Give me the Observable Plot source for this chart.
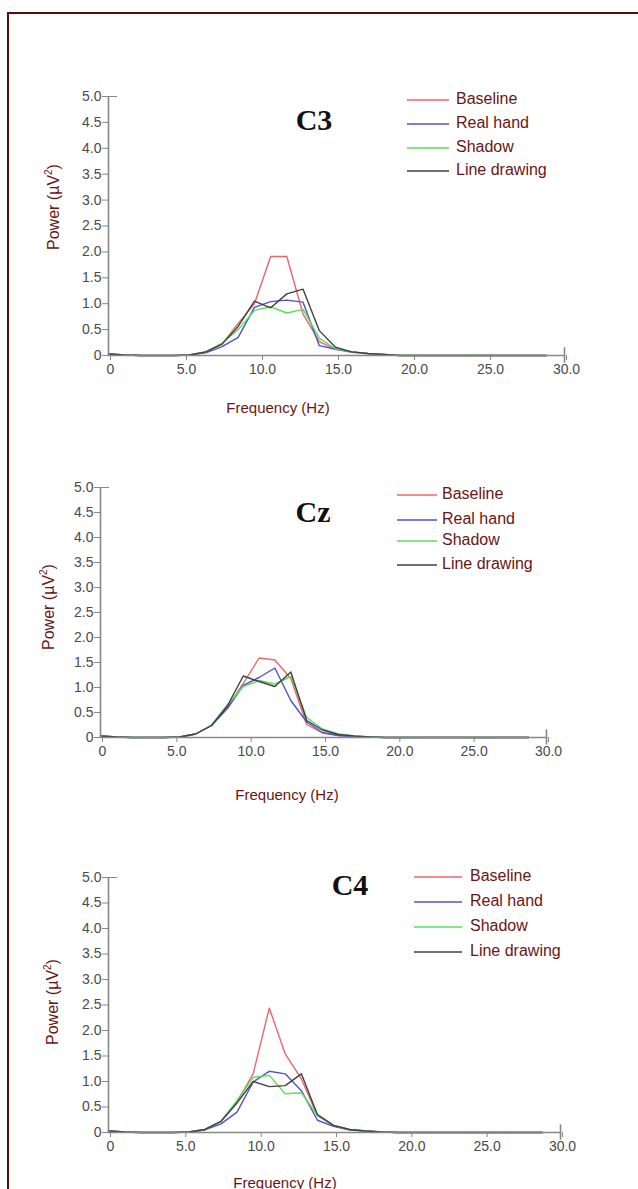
<!DOCTYPE html>
<html>
<head>
<meta charset="utf-8">
<script src="https://cdn.jsdelivr.net/npm/d3@7"></script>
<script src="https://cdn.jsdelivr.net/npm/@observablehq/plot@0.6"></script>
<style>
  html, body { margin: 0; padding: 0; background: #fff; }
  #root { position: relative; width: 638px; height: 1189px; overflow: hidden; background: #fff;
          font-family: "Liberation Sans", Arial, sans-serif; }
  .border { position: absolute; left: 7px; top: 12px; width: 700px; height: 1300px;
            border-left: 2px solid #5a0d0d; border-top: 2px solid #5a0d0d; }
  .title { position: absolute; font-family: "Liberation Serif", "Times New Roman", serif; font-weight: bold;
           font-size: 30px; color: #111; transform: translate(-50%, -50%); white-space: nowrap; }
  .xlab { position: absolute; font-size: 15px; color: #6b1414; transform: translate(-50%, -50%); white-space: nowrap; }
  .ylab { position: absolute; font-size: 16px; color: #6b1414; transform: translate(-50%, -50%) rotate(-90deg); white-space: nowrap; }
  .leg { position: absolute; font-size: 16px; color: #6b1414; white-space: nowrap; line-height: 18px; }
</style>
</head>
<body>
<div id="root"><div class="border"></div></div>
<script>
// ---------- data ----------
// frequency positions of the samples, as read against the axis labels
const freq = [0,1.07,2.13,3.2,4.27,5.33,6.4,7.47,8.53,9.6,10.67,11.73,12.8,13.87,14.93,16.0,17.07,18.13,19.2,20.27,21.33,22.4,23.47,24.53,25.6,26.67,27.73,28.8];
const seriesNames = ["Baseline", "Real hand", "Shadow", "Line drawing"];
const seriesColors = ["#f0646c", "#5050d6", "#58e058", "#404040"];
const xTicks = [0, 5, 10, 15, 20, 25, 30];
const yTicks = [0, 0.5, 1, 1.5, 2, 2.5, 3, 3.5, 4, 4.5, 5];
const panelTitles = ["C3", "Cz", "C4"];

const c3Baseline   = [0.03,0.01,0,0,0,0.01,0.07,0.22,0.62,1.00,1.91,1.91,0.80,0.27,0.12,0.06,0.03,0.01,0,0,0,0,0,0,0,0,0,0];
const c3RealHand   = [0.03,0.01,0,0,0,0.01,0.05,0.17,0.35,0.93,1.04,1.07,1.03,0.19,0.12,0.07,0.04,0.02,0,0,0,0,0,0,0,0,0,0];
const c3Shadow     = [0.03,0.01,0,0,0,0.01,0.07,0.24,0.50,0.87,0.94,0.82,0.89,0.33,0.13,0.07,0.04,0.02,0,0,0,0,0,0,0,0,0,0];
const c3Line       = [0.03,0.01,0,0,0,0.01,0.07,0.22,0.56,1.05,0.92,1.19,1.28,0.48,0.16,0.07,0.04,0.02,0,0,0,0,0,0,0,0,0,0];

const czBaseline   = [0.03,0.01,0,0,0,0.01,0.07,0.24,0.60,1.08,1.59,1.55,1.18,0.26,0.09,0.04,0.02,0.01,0,0,0,0,0,0,0,0,0,0];
const czRealHand   = [0.03,0.01,0,0,0,0.01,0.07,0.24,0.58,1.04,1.20,1.39,0.74,0.31,0.10,0.04,0.02,0.01,0,0,0,0,0,0,0,0,0,0];
const czShadow     = [0.03,0.01,0,0,0,0.01,0.07,0.25,0.65,1.02,1.14,1.07,1.22,0.40,0.17,0.07,0.03,0.01,0,0,0,0,0,0,0,0,0,0];
const czLine       = [0.03,0.01,0,0,0,0.01,0.07,0.24,0.63,1.23,1.12,1.02,1.31,0.34,0.15,0.06,0.03,0.01,0,0,0,0,0,0,0,0,0,0];

const c4Baseline   = [0.03,0.01,0,0,0,0.01,0.06,0.22,0.60,1.15,2.44,1.54,1.05,0.33,0.14,0.06,0.03,0.01,0,0,0,0,0,0,0,0,0,0];
const c4RealHand   = [0.03,0.01,0,0,0,0.01,0.05,0.17,0.40,0.99,1.20,1.15,0.82,0.24,0.12,0.05,0.03,0.01,0,0,0,0,0,0,0,0,0,0];
const c4Shadow     = [0.03,0.01,0,0,0,0.01,0.06,0.22,0.63,1.08,1.12,0.76,0.78,0.33,0.14,0.06,0.03,0.01,0,0,0,0,0,0,0,0,0,0];
const c4Line       = [0.03,0.01,0,0,0,0.01,0.06,0.22,0.58,1.00,0.90,0.92,1.15,0.35,0.14,0.06,0.03,0.01,0,0,0,0,0,0,0,0,0,0];

// ---------- layout (pixel geometry of each panel) ----------
const panels = [
  { title: panelTitles[0], series: [c3Baseline, c3RealHand, c3Shadow, c3Line],
    x0: 108, x30: 564, y5: 96, y0: 355, titlePos: [314, 120],
    leg: { x1: 407, x2: 449, tx: 456, ys: [100, 124, 148, 171] },
    ylab: [53, 207], xlab: [278, 407] },
  { title: panelTitles[1], series: [czBaseline, czRealHand, czShadow, czLine],
    x0: 100, x30: 546, y5: 487, y0: 737, titlePos: [313, 512],
    leg: { x1: 397, x2: 437, tx: 442, ys: [495, 520, 541, 565] },
    ylab: [48, 607], xlab: [287, 794] },
  { title: panelTitles[2], series: [c4Baseline, c4RealHand, c4Shadow, c4Line],
    x0: 108, x30: 560, y5: 877, y0: 1132, titlePos: [350, 885],
    leg: { x1: 414, x2: 462, tx: 470, ys: [877, 902, 927, 952] },
    ylab: [52, 1002], xlab: [285, 1182] }
];

const root = document.getElementById("root");
const fmt = d => d === 0 ? "0" : d.toFixed(1);

function addDiv(cls, text, x, y) {
  const el = document.createElement("div");
  el.className = cls;
  el.innerHTML = text;
  el.style.left = x + "px";
  el.style.top = y + "px";
  root.appendChild(el);
  return el;
}

panels.forEach(p => {
  const rows = [];
  p.series.forEach((vals, si) => {
    vals.forEach((v, i) => rows.push({ freq: freq[i], power: v, series: seriesNames[si] }));
  });
  const mt = 20, mb = 32;
  const top = p.y5 - mt;
  const height = mt + (p.y0 - p.y5) + mb;
  const chart = Plot.plot({
    width: 638,
    height,
    marginLeft: p.x0,
    marginRight: 638 - p.x30,
    marginTop: mt,
    marginBottom: mb,
    style: { fontFamily: "'Liberation Sans', Arial, sans-serif", fontSize: "14px", color: "#777", background: "transparent" },
    x: { domain: [0, 30] },
    y: { domain: [0, 5] },
    color: { domain: seriesNames, range: seriesColors },
    marks: [
      Plot.axisX({ ticks: xTicks, tickFormat: fmt, tickSize: 5, tickPadding: 4, label: null, fill: "#4a4a4a", stroke: "#888", fontSize: 14, dx: 2 }),
      Plot.axisY({ ticks: yTicks, tickFormat: fmt, tickSize: 6, tickPadding: 1, label: null, fill: "#4a4a4a", stroke: "#888", fontSize: 14 }),
      Plot.axisY({ ticks: [5], tickSize: -9, tickFormat: () => "", label: null, stroke: "#888" }),
      Plot.line(rows, { x: "freq", y: "power", z: "series", stroke: "series", strokeWidth: 1.4 }),
      Plot.ruleX([0], { stroke: "#888", strokeWidth: 1.6 }),
      Plot.ruleY([0], { stroke: "#888", strokeWidth: 1.6 }),
      Plot.ruleX([30], { y1: -0.15, y2: 0.15, stroke: "#888", strokeWidth: 1.6 })
    ]
  });
  chart.style.position = "absolute";
  chart.style.left = "0px";
  chart.style.top = top + "px";
  chart.style.overflow = "visible";
  root.appendChild(chart);

  addDiv("title", p.title, p.titlePos[0], p.titlePos[1]);
  addDiv("ylab", "Power (&micro;V<sup style='font-size:10px'>2</sup>)", p.ylab[0], p.ylab[1]);
  addDiv("xlab", "Frequency (Hz)", p.xlab[0], p.xlab[1]);

  // legend
  const svgNS = "http://www.w3.org/2000/svg";
  const lg = document.createElementNS(svgNS, "svg");
  lg.setAttribute("width", 638);
  lg.setAttribute("height", 1189);
  lg.style.position = "absolute";
  lg.style.left = "0px";
  lg.style.top = "0px";
  lg.style.pointerEvents = "none";
  seriesNames.forEach((name, i) => {
    const ln = document.createElementNS(svgNS, "line");
    ln.setAttribute("x1", p.leg.x1);
    ln.setAttribute("x2", p.leg.x2);
    ln.setAttribute("y1", p.leg.ys[i]);
    ln.setAttribute("y2", p.leg.ys[i]);
    ln.setAttribute("stroke", seriesColors[i]);
    ln.setAttribute("stroke-width", 1.6);
    lg.appendChild(ln);
    addDiv("leg", name, p.leg.tx, p.leg.ys[i] - 10);
  });
  root.appendChild(lg);
});
</script>
</body>
</html>
